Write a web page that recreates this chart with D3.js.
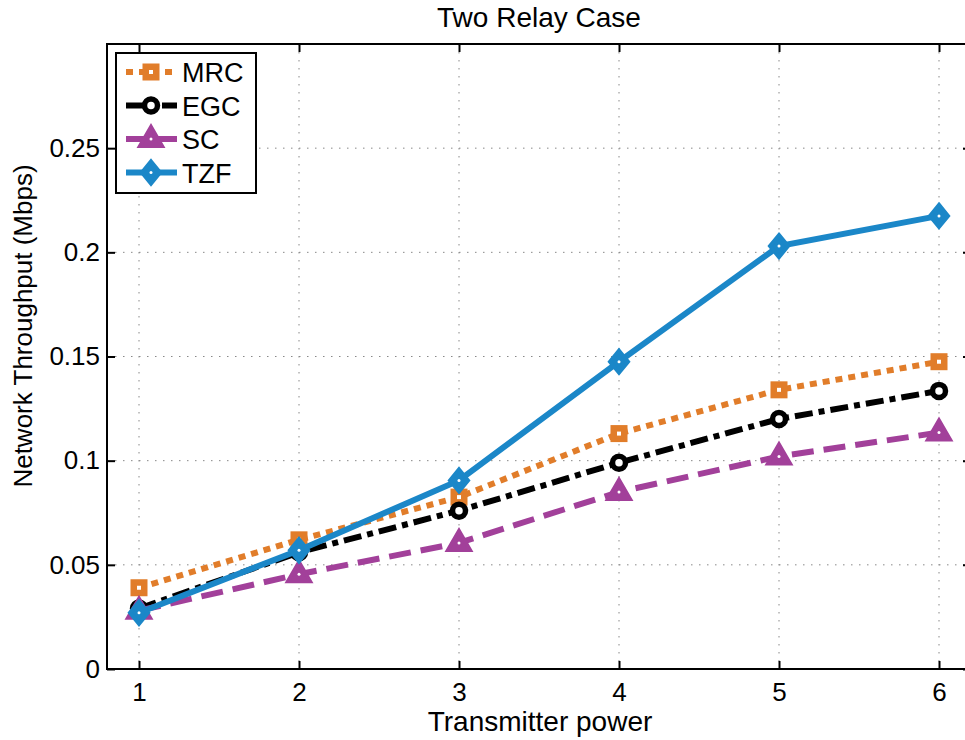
<html>
<head>
<script src="https://cdnjs.cloudflare.com/ajax/libs/d3/7.8.5/d3.min.js"></script>
<style>
  body { margin: 0; background: #fff; }
  svg { font-family: "Liberation Sans", Arial, sans-serif; }
</style>
</head>
<body>
<div id="chart"></div>
<script>
// data
var powers = [1, 2, 3, 4, 5, 6];
var mrc = [0.039, 0.062, 0.0825, 0.113, 0.134, 0.1475];
var egc = [0.029, 0.056, 0.076, 0.099, 0.120, 0.1335];
var sc  = [0.028, 0.0455, 0.0605, 0.085, 0.102, 0.1135];
var tzf = [0.027, 0.057, 0.0905, 0.1475, 0.203, 0.2175];
var yTicks = [0, 0.05, 0.1, 0.15, 0.2, 0.25];
var yTickLabels = ["0", "0.05", "0.1", "0.15", "0.2", "0.25"];

var series = [
  {name: "MRC", vals: mrc, color: "#E17D2A", dash: "7,6", marker: "square"},
  {name: "EGC", vals: egc, color: "#000000", dash: "18,6,6,6", marker: "circle"},
  {name: "SC",  vals: sc,  color: "#A2409A", dash: "22,10", marker: "triangle"},
  {name: "TZF", vals: tzf, color: "#1B87C8", dash: null, marker: "diamond"}
]

var W = 965, H = 740;
var pLeft = 107, pTop = 44, pBottom = 669, pRight = 971;

var svg = d3.select("#chart").append("svg")
  .attr("width", W).attr("height", H)

var x = d3.scaleLinear().domain([0.8, 6.2]).range([pLeft, pRight])
var y = d3.scaleLinear().domain([0, 0.3]).range([pBottom, pTop])

// grid
var grid = svg.append("g")
grid.selectAll("line.gx").data(powers).enter().append("line")
  .attr("x1", function(d){return x(d)}).attr("x2", function(d){return x(d)})
  .attr("y1", pTop).attr("y2", pBottom)
  .style("stroke", "#888").style("stroke-width", 1).style("stroke-dasharray", "1.5,6.5")
grid.selectAll("line.gy").data(yTicks.slice(1)).enter().append("line")
  .attr("x1", pLeft).attr("x2", pRight)
  .attr("y1", function(d){return y(d)}).attr("y2", function(d){return y(d)})
  .style("stroke", "#888").style("stroke-width", 1).style("stroke-dasharray", "1.5,6.5")

// box
svg.append("rect").attr("x", pLeft).attr("y", pTop)
  .attr("width", pRight - pLeft).attr("height", pBottom - pTop)
  .style("fill", "none").style("stroke", "#000").style("stroke-width", 2)

// axes (ticks inward)
var xAxis = d3.axisBottom(x).tickValues(powers).tickSize(-8).tickPadding(14).tickFormat(d3.format("d"))
var yAxis = d3.axisLeft(y).tickValues(yTicks).tickSize(-8).tickPadding(7)
  .tickFormat(function(d, i){return yTickLabels[i]})
var gx = svg.append("g").attr("transform", "translate(0," + pBottom + ")").call(xAxis)
var gy = svg.append("g").attr("transform", "translate(" + pLeft + ",0)").call(yAxis)
svg.append("g").attr("transform", "translate(0," + pTop + ")")
  .call(d3.axisTop(x).tickValues(powers).tickSize(-8).tickFormat(""))
svg.append("g").attr("transform", "translate(" + pRight + ",0)")
  .call(d3.axisRight(y).tickValues(yTicks).tickSize(-8).tickFormat(""))
svg.selectAll(".domain").remove()
svg.selectAll(".tick line").style("stroke", "#000").style("stroke-width", 2)
svg.selectAll(".tick text").style("font-size", "26px").style("fill", "#000")
  .style("font-family", "Liberation Sans, Arial, sans-serif")

// markers: thick-edged, so mostly solid with a small white centre
function drawMarker(g, type, cx, cy, color) {
  var shape
  if (type == "square") {
    shape = g.append("rect").attr("x", cx - 6.5).attr("y", cy - 6.5).attr("width", 13).attr("height", 13)
    g.append("rect").attr("x", cx - 2).attr("y", cy - 2).attr("width", 4).attr("height", 4).style("fill", "#fff")
    shape.lower ? 0 : 0
  } else if (type == "circle") {
    g.append("circle").attr("cx", cx).attr("cy", cy).attr("r", 6.5)
      .style("fill", "#fff").style("stroke", color).style("stroke-width", 5.5)
    return
  } else if (type == "triangle") {
    shape = g.append("path").attr("d", "M" + cx + "," + (cy - 12) + "L" + (cx + 11) + "," + (cy + 7) + "L" + (cx - 11) + "," + (cy + 7) + "Z")
  } else if (type == "diamond") {
    shape = g.append("path").attr("d", "M" + cx + "," + (cy - 11) + "L" + (cx + 9) + "," + cy + "L" + cx + "," + (cy + 11) + "L" + (cx - 9) + "," + cy + "Z")
  }
  shape.style("fill", color).style("stroke", color).style("stroke-width", 4).style("stroke-linejoin", "miter")
  if (type != "square") {
    g.append("circle").attr("cx", cx).attr("cy", cy).attr("r", 1.5).style("fill", "#fff")
  } else {
    g.selectAll("rect").filter(function(){return this.getAttribute("width") == "4"}).raise()
  }
}

var line = d3.line().x(function(d){return x(d[0])}).y(function(d){return y(d[1])})

series.forEach(function(s){
  var pts = powers.map(function(p, i){return [p, s.vals[i]]})
  var g = svg.append("g")
  g.append("path").attr("d", line(pts))
    .style("fill", "none").style("stroke", s.color).style("stroke-width", 6)
    .style("stroke-dasharray", s.dash)
  pts.forEach(function(p){ drawMarker(g, s.marker, x(p[0]), y(p[1]), s.color) })
})

// legend
var lg = svg.append("g")
lg.append("rect").attr("x", 116).attr("y", 53).attr("width", 140).attr("height", 140)
  .style("fill", "#fff").style("stroke", "#000").style("stroke-width", 2)
series.forEach(function(s, i){
  var ly = 72 + i * 33.5
  var item = lg.append("g")
  item.append("line").attr("x1", 126).attr("x2", 177).attr("y1", ly).attr("y2", ly)
    .style("stroke", s.color).style("stroke-width", 6).style("stroke-dasharray", s.dash)
  drawMarker(item, s.marker, 151, ly, s.color)
  item.append("text").attr("x", 182).attr("y", ly + 10).text(s.name)
    .style("font-size", "27px").style("fill", "#000")
})

// titles
svg.append("text").attr("x", 539).attr("y", 27).attr("text-anchor", "middle")
  .style("font-size", "28px").text("Two Relay Case")
svg.append("text").attr("x", 540).attr("y", 731).attr("text-anchor", "middle")
  .style("font-size", "28px").text("Transmitter power")
svg.append("text").attr("transform", "translate(32,326) rotate(-90)").attr("text-anchor", "middle")
  .style("font-size", "26px").text("Network Throughput (Mbps)")
</script>
</body>
</html>
